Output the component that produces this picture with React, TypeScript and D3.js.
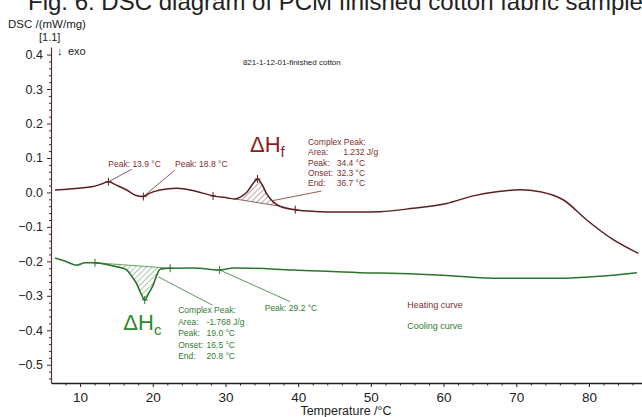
import React, { useRef, useEffect } from 'react';
import * as d3 from 'd3';

// heating run (upper curve), temperature in °C and DSC in mW/mg
const tempHeat = [6.55, 8.6, 11.8, 12.9, 13.9, 15.0, 16.4, 17.6, 18.7, 19.6, 21.0, 23.3, 25.8, 28.3, 30.3, 31.3, 32.1, 33.0, 33.8, 34.4, 35.0, 35.7, 36.6, 37.5, 39.6, 42.3, 45.8, 48.5, 51.25, 55.8, 60.4, 64.1, 67.3, 70.5, 73.3, 76.5, 79.7, 83.4, 86.8];
const dscHeat = [0.007, 0.010, 0.017, 0.024, 0.031, 0.021, 0.007, -0.008, -0.012, -0.002, 0.007, 0.012, 0.004, -0.010, -0.016, -0.019, -0.013, 0.002, 0.026, 0.039, 0.024, -0.005, -0.028, -0.040, -0.050, -0.055, -0.057, -0.057, -0.056, -0.046, -0.032, -0.010, 0.002, 0.008, 0.002, -0.022, -0.080, -0.138, -0.177];

// cooling run (lower curve)
const tempCool = [6.55, 7.9, 9.5, 10.7, 12.05, 14.1, 15.5, 16.4, 17.1, 17.75, 18.35, 18.9, 19.45, 20.05, 20.55, 21.0, 22.4, 25.6, 29.2, 31.1, 39.3, 48.5, 54.0, 59.9, 66.8, 76.0, 81.5, 86.6];
const dscCool = [-0.190, -0.199, -0.211, -0.204, -0.204, -0.211, -0.218, -0.225, -0.243, -0.264, -0.292, -0.312, -0.292, -0.269, -0.240, -0.223, -0.220, -0.219, -0.225, -0.219, -0.225, -0.233, -0.235, -0.240, -0.249, -0.249, -0.243, -0.233];

const heatMarks = [13.9, 18.7, 28.3, 34.4, 39.6];
const coolMarks = [12.05, 18.9, 22.4, 29.2];
const heatPeakRange = [31.3, 37.5];
const coolPeakRange = [12.05, 22.4];

const xTicks = [10, 20, 30, 40, 50, 60, 70, 80];
const yTicks = [0.4, 0.3, 0.2, 0.1, 0.0, -0.1, -0.2, -0.3, -0.4, -0.5];

const heatInfo = [['Area:', '1.232 J/g'], ['Peak:', '34.4 °C'], ['Onset:', '32.3 °C'], ['End:', '36.7 °C']];
const coolInfo = [['Area:', '-1.768 J/g'], ['Peak:', '19.0 °C'], ['Onset:', '16.5 °C'], ['End:', '20.8 °C']];

const W = 642;
const H = 417;
const FONT = 'Liberation Sans, Arial, sans-serif';
const HEAT = '#5c1f1f';
const HEAT_TXT = '#7d2f2f';
const COOL = '#2a742a';
const COOL_TXT = '#2f7d2f';

const interp = (ts: number[], vs: number[], t: number) => {
	for (let i = 1; i < ts.length; i++) {
		if (t <= ts[i]) {
			const k = (t - ts[i - 1]) / (ts[i] - ts[i - 1]);
			return vs[i - 1] + k * (vs[i] - vs[i - 1]);
		}
	}
	return vs[vs.length - 1];
};

const App = () => {
	const xAxisRef = useRef<SVGGElement>(null);
	const yAxisRef = useRef<SVGGElement>(null);

	const x = d3.scaleLinear().domain([6, 87.3]).range([51, 642]);
	const y = d3.scaleLinear().domain([-0.553, 0.422]).range([383, 47]);

	useEffect(() => {
		const gx = d3.select(xAxisRef.current);
		gx.selectAll('*').remove();
		gx.append('g')
			.call(d3.axisBottom(x).tickValues(d3.range(8, 88, 2).filter(v => v % 10 !== 0)).tickSize(2.5).tickFormat(() => '').tickSizeOuter(0))
			.call(g => g.select('.domain').remove());
		gx.append('g')
			.call(d3.axisBottom(x).tickValues(xTicks).tickSize(4).tickPadding(5).tickSizeOuter(0))
			.call(g => g.select('.domain').attr('stroke', '#222').attr('stroke-width', 1.4))
			.call(g => g.selectAll('text').attr('font-size', 13.5).attr('font-family', FONT).attr('fill', '#222'));
		gx.selectAll('line').attr('stroke', '#222');

		const gy = d3.select(yAxisRef.current);
		gy.selectAll('*').remove();
		gy.append('g')
			.call(d3.axisLeft(y).tickValues(d3.range(-54, 42, 2).map(v => v / 100).filter(v => Math.round(v * 100) % 10 !== 0)).tickSize(2).tickFormat(() => '').tickSizeOuter(0))
			.call(g => g.select('.domain').remove());
		gy.append('g')
			.call(d3.axisLeft(y).tickValues(yTicks).tickSize(4).tickPadding(4).tickSizeOuter(0).tickFormat(d3.format('.1f')))
			.call(g => g.select('.domain').attr('stroke', '#6b2a2a').attr('stroke-width', 1.2))
			.call(g => g.selectAll('text').attr('font-size', 12.5).attr('font-family', FONT).attr('fill', '#222'));
		gy.selectAll('.tick line').attr('stroke', '#333');
	}, []);

	const line = d3.line<number[]>().x(d => x(d[0])).y(d => y(d[1])).curve(d3.curveMonotoneX);
	const heatPts = tempHeat.map((t, i) => [t, dscHeat[i]]);
	const coolPts = tempCool.map((t, i) => [t, dscCool[i]]);

	const hatch = (ts: number[], vs: number[], range: number[]) => {
		const a = [range[0], interp(ts, vs, range[0])];
		const b = [range[1], interp(ts, vs, range[1])];
		const inner = ts.map((t, i) => [t, vs[i]]).filter(p => p[0] > range[0] && p[0] < range[1]);
		return line([a, ...inner, b]) + ` L${x(a[0])},${y(a[1])} Z`;
	};

	const cross = (t: number, v: number, color: string, key: string) => (
		<g key={key} stroke={color} strokeWidth={1}>
			<line x1={x(t)} x2={x(t)} y1={y(v) - 4} y2={y(v) + 4} />
			<line x1={x(t) - 3} x2={x(t) + 3} y1={y(v)} y2={y(v)} />
		</g>
	);

	const txt = { fontFamily: FONT } as const;

	return (
		<svg width={W} height={H} style={{ position: 'absolute', left: 0, top: 0, background: '#fff' }}>
			<defs>
				<pattern id="hatchHeat" width={4} height={4} patternUnits="userSpaceOnUse" patternTransform="rotate(45)">
					<line x1={0} y1={0} x2={0} y2={4} stroke={HEAT} strokeWidth={0.8} />
				</pattern>
				<pattern id="hatchCool" width={4} height={4} patternUnits="userSpaceOnUse" patternTransform="rotate(45)">
					<line x1={0} y1={0} x2={0} y2={4} stroke={COOL} strokeWidth={0.8} />
				</pattern>
			</defs>

			<text x={28} y={10} fontSize={24} fill="#222" style={txt}>Fig. 6: DSC diagram of PCM finished cotton fabric sample</text>
			<text x={8} y={28} fontSize={11.5} fill="#222" style={txt}>DSC /(mW/mg)</text>
			<text x={39} y={41} fontSize={11} fill="#222" style={txt}>[1.1]</text>
			<text x={57} y={55} fontSize={11} fill="#222" style={txt}>↓</text>
			<text x={68} y={55} fontSize={11} fill="#222" style={txt}>exo</text>
			<text x={x(32.4)} y={y(0.371)} fontSize={8} fill="#222" style={txt}>821-1-12-01-finished cotton</text>

			<g ref={xAxisRef} transform="translate(0,383)" />
			<g ref={yAxisRef} transform="translate(51,0)" />
			<text x={346} y={415} textAnchor="middle" fontSize={12.5} fill="#222" style={txt}>Temperature /°C</text>

			{/* hatched peak areas */}
			<path d={hatch(tempHeat, dscHeat, heatPeakRange)} fill="url(#hatchHeat)" stroke={HEAT} strokeWidth={0.7} />
			<path d={hatch(tempCool, dscCool, coolPeakRange)} fill="url(#hatchCool)" stroke={COOL} strokeWidth={0.7} />

			{/* curves */}
			<path d={line(heatPts) || ''} fill="none" stroke={HEAT} strokeWidth={1.5} />
			<path d={line(coolPts) || ''} fill="none" stroke={COOL} strokeWidth={1.5} />

			{heatMarks.map((t, i) => cross(t, interp(tempHeat, dscHeat, t), HEAT, 'h' + i))}
			{coolMarks.map((t, i) => cross(t, interp(tempCool, dscCool, t), COOL, 'c' + i))}

			{/* heating annotations */}
			<g stroke={HEAT_TXT} strokeWidth={0.8}>
				<line x1={x(heatMarks[0])} y1={y(interp(tempHeat, dscHeat, heatMarks[0]))} x2={x(17.1)} y2={y(0.067)} />
				<line x1={x(heatMarks[1])} y1={y(interp(tempHeat, dscHeat, heatMarks[1]))} x2={x(23.06)} y2={y(0.065)} />
				<line x1={x(36.58)} y1={y(-0.0235)} x2={x(43.2)} y2={y(0.004)} />
			</g>
			<g fill={HEAT_TXT} fontSize={8.5} style={txt}>
				<text x={x(13.88)} y={y(0.075)}>Peak: 13.9 °C</text>
				<text x={x(23.06)} y={y(0.075)}>Peak: 18.8 °C</text>
				<text x={x(41.35)} y={y(0.138)}>Complex Peak:</text>
				{heatInfo.map((r, i) => (
					<g key={i}>
						<text x={x(41.35)} y={y(0.138) + (i + 1) * 10.4}>{r[0]}</text>
						<text x={x(i === 0 ? 46.2 : 45.3)} y={y(0.138) + (i + 1) * 10.4}>{r[1]}</text>
					</g>
				))}
			</g>
			<text x={x(33.37)} y={y(0.117)} fontSize={22} fill="#8b1c1c" style={txt}>
				ΔH<tspan fontSize={15} dy={5}>f</tspan>
			</text>

			{/* cooling annotations */}
			<g stroke={COOL_TXT} strokeWidth={0.8}>
				<line x1={x(20.76)} y1={y(-0.245)} x2={x(28.2)} y2={y(-0.327)} />
				<line x1={x(coolMarks[3])} y1={y(interp(tempCool, dscCool, coolMarks[3]))} x2={x(38.9)} y2={y(-0.317)} />
			</g>
			<g fill={COOL_TXT} fontSize={8.5} style={txt}>
				<text x={x(35.4)} y={y(-0.344)}>Peak: 29.2 °C</text>
				<text x={x(23.5)} y={y(-0.350)}>Complex Peak:</text>
				{coolInfo.map((r, i) => (
					<g key={i}>
						<text x={x(23.5)} y={y(-0.350) + (i + 1) * 11.5}>{r[0]}</text>
						<text x={x(27.4)} y={y(-0.350) + (i + 1) * 11.5}>{r[1]}</text>
					</g>
				))}
			</g>
			<text x={x(15.95)} y={y(-0.40)} fontSize={22} fill="#2b8a2b" style={txt}>
				ΔH<tspan fontSize={15} dy={5}>c</tspan>
			</text>

			{/* legend */}
			<text x={x(55)} y={y(-0.336)} fontSize={9} fill={HEAT_TXT} style={txt}>Heating curve</text>
			<text x={x(55)} y={y(-0.397)} fontSize={9} fill={COOL_TXT} style={txt}>Cooling curve</text>
		</svg>
	);
};

export default App;
